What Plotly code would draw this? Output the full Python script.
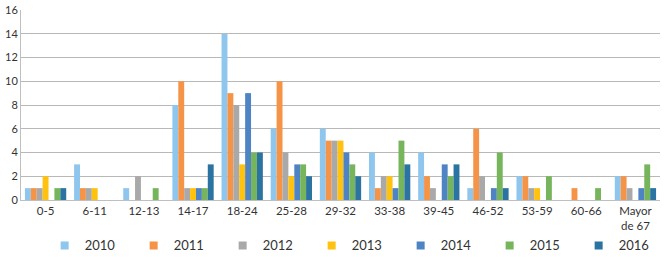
import plotly.graph_objects as go

categories = ["0-5", "6-11", "12-13", "14-17", "18-24", "25-28", "29-32",
              "33-38", "39-45", "46-52", "53-59", "60-66", "Mayor<br>de 67"]
years = ["2010", "2011", "2012", "2013", "2014", "2015", "2016"]

v2010 = [1, 3, 1, 8, 14, 6, 6, 4, 4, 1, 2, 0, 2]
v2011 = [1, 1, 0, 10, 9, 10, 5, 1, 2, 6, 2, 1, 2]
v2012 = [1, 1, 2, 1, 8, 4, 5, 2, 1, 2, 1, 0, 1]
v2013 = [2, 1, 0, 1, 3, 2, 5, 2, 0, 0, 1, 0, 0]
v2014 = [0, 0, 0, 1, 9, 3, 4, 1, 3, 1, 0, 0, 1]
v2015 = [1, 0, 1, 1, 4, 3, 3, 5, 2, 4, 2, 1, 3]
v2016 = [1, 0, 0, 3, 4, 2, 2, 3, 3, 1, 0, 0, 1]

series = [v2010, v2011, v2012, v2013, v2014, v2015, v2016]
colors = ["#8EC6EE", "#F59447", "#A9A9A9", "#FFC20E", "#4E83C4", "#76B55B", "#2B73A0"]

fig = go.Figure()
for name, vals, col in zip(years, series, colors):
    fig.add_trace(go.Bar(x=categories, y=vals, name=name, marker_color=col,
                         marker_line_width=0, showlegend=False))
for name, col in zip(years, colors):
    fig.add_trace(go.Scatter(x=[None], y=[None], mode="markers", name=name,
                             marker=dict(symbol="square", size=8, color=col)))

fig.update_layout(
    width=665, height=257,
    margin=dict(l=21, r=5, t=10, b=57, autoexpand=False),
    paper_bgcolor="white", plot_bgcolor="white",
    font=dict(family="Lato, sans-serif", size=11, color="#333333"),
    barmode="group", bargap=0.16, bargroupgap=0,
    showlegend=True,
    legend=dict(orientation="h", x=0.037, xanchor="left",
                yref="container", y=0.045, yanchor="middle",
                entrywidth=44, entrywidthmode="pixels", itemwidth=30,
                font=dict(size=13), tracegroupgap=0),
    xaxis=dict(showgrid=False, showline=True, linecolor="#BFBFBF", linewidth=1,
               ticks="", tickfont=dict(size=11.5), automargin=False),
    yaxis=dict(range=[0, 16], dtick=2, showgrid=True, gridcolor="#B8B8B8",
               gridwidth=1, showline=True, linecolor="#BFBFBF", linewidth=1,
               ticks="", zeroline=False, tickfont=dict(size=11), automargin=False),
)

fig.write_html("out.html", config={"displayModeBar": False},
               post_script="document.body.style.margin='0';")
